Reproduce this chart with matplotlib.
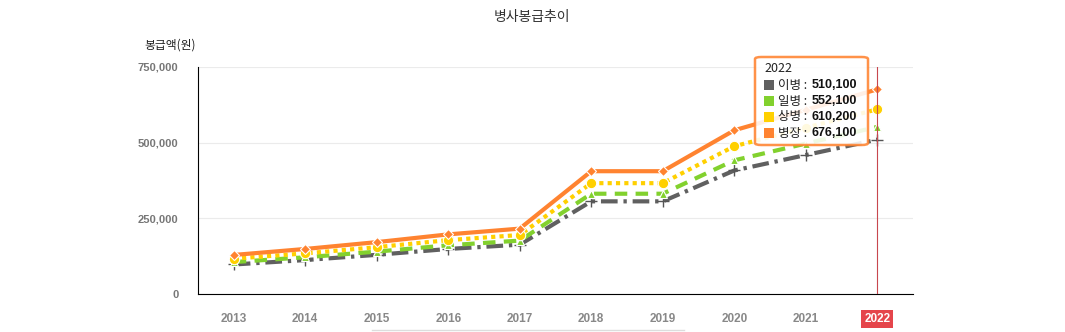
import matplotlib.pyplot as plt
from matplotlib.patches import FancyBboxPatch, Rectangle
from matplotlib.lines import Line2D

plt.rcParams['font.family'] = ['Noto Sans CJK KR', 'DejaVu Sans']

years = ['2013', '2014', '2015', '2016', '2017', '2018', '2019', '2020', '2021', '2022']
rank_names = ['이병', '일병', '상병', '병장']
pay_private = [97500, 112100, 129400, 148800, 163000, 306100, 306100, 408100, 459100, 510100]
pay_pfc = [105500, 121300, 140000, 161000, 176400, 331300, 331300, 441700, 496900, 552100]
pay_cpl = [116700, 134200, 154800, 178000, 195000, 366200, 366200, 488200, 549200, 610200]
pay_sgt = [129000, 148800, 171400, 197000, 216000, 405700, 405700, 540900, 608500, 676100]
yticks = [0, 250000, 500000, 750000]

W, H = 1065, 332


def px(x, y):
    # pixel (from top-left) -> figure fraction
    return x / W, 1 - y / H


fig = plt.figure(figsize=(W / 100, H / 100), dpi=100)
ax = fig.add_axes([198 / W, 1 - 294 / H, 715 / W, 227 / H])

xs = list(range(len(years)))
series = [
    (pay_private, '#606060', (0, (4, 1.4, 0.8, 1.4)), '+', 8),
    (pay_pfc, '#82d12e', (0, (3, 2)), '^', 6),
    (pay_cpl, '#ffd000', (0, (1, 1)), 'o', 7.5),
    (pay_sgt, '#ff8330', '-', 'D', 5),
]
for vals, col, ls, mk, ms in series:
    if mk == '+':
        ax.plot(xs, vals, color=col, lw=3, ls=ls, zorder=3)
        ax.plot(xs, vals, color='#555555', ls='none', marker=mk, ms=ms,
                mew=1.0, zorder=3)
    else:
        ax.plot(xs, vals, color=col, lw=3, ls=ls, marker=mk, ms=ms,
                mec='white', mew=0.8, zorder=3)

ax.set_xlim(-0.5, len(years) - 0.5)
ax.set_ylim(0, 750000)
ax.set_yticks(yticks)
ax.set_yticklabels([f'{v:,}' for v in yticks], color='#777777', fontsize=8,
                   family=['Liberation Sans', 'DejaVu Sans'], fontweight='bold')
ax.set_xticks(xs)
ax.set_xticklabels(years, color='#888888', fontsize=8.5,
                   family=['Liberation Sans', 'DejaVu Sans'], fontweight='bold')
ax.tick_params(axis='both', length=0)
ax.tick_params(axis='x', pad=14)
ax.tick_params(axis='y', pad=14)
ax.grid(axis='y', color='#ebebeb', lw=0.8)
ax.set_axisbelow(True)
for s in ['top', 'right']:
    ax.spines[s].set_visible(False)
ax.spines['left'].set_color('black')
ax.spines['bottom'].set_color('black')

# highlighted last category
last = ax.get_xticklabels()[-1]
last.set_color('white')
last.set_bbox(dict(boxstyle='square,pad=0.25', fc='#e5454b', ec='none'))

# crosshair
ax.axvline(xs[-1], color='#c8474e', lw=0.8, zorder=4)

fig.text(*px(532, 17), '병사봉급추이', ha='center', va='center', fontsize=10,
         color='#333333')
fig.text(*px(170, 45), '봉급액(원)', ha='center', va='center', fontsize=8.5,
         color='#222222')

# tooltip
x0, y0 = px(755, 145)
x1, y1 = px(868, 57)
fig.patches.append(FancyBboxPatch((x0, y0), x1 - x0, y1 - y0,
                                  boxstyle='round,pad=0,rounding_size=0.006',
                                  transform=fig.transFigure, fc='white',
                                  ec='#ff8330', lw=1.8, alpha=0.88, zorder=10))
fig.text(*px(764, 69), years[-1], ha='left', va='center', fontsize=9,
         color='#222222', zorder=11)
all_vals = [pay_private, pay_pfc, pay_cpl, pay_sgt]
for i, (name, vals, s) in enumerate(zip(rank_names, all_vals, series)):
    yy = 85 + i * 16
    sx, sy = px(764, yy + 5)
    fig.patches.append(Rectangle((sx, sy), 10 / W, 10 / H, transform=fig.transFigure,
                                 fc=s[1], ec='none', zorder=11))
    fig.text(*px(778, yy), f'{name} : ', ha='left', va='center', fontsize=9,
             color='#222222', zorder=11)
    fig.text(*px(812, yy), f'{vals[-1]:,}', ha='left', va='center', fontsize=9,
             color='#111111', fontweight='bold', zorder=11,
             family=['Liberation Sans', 'DejaVu Sans'])

# faint scrollbar line
fig.lines.append(Line2D([372 / W, 684 / W], [1 - 330 / H] * 2,
                        transform=fig.transFigure, color='#dddddd', lw=1))

fig.savefig('out.png', dpi=100)
